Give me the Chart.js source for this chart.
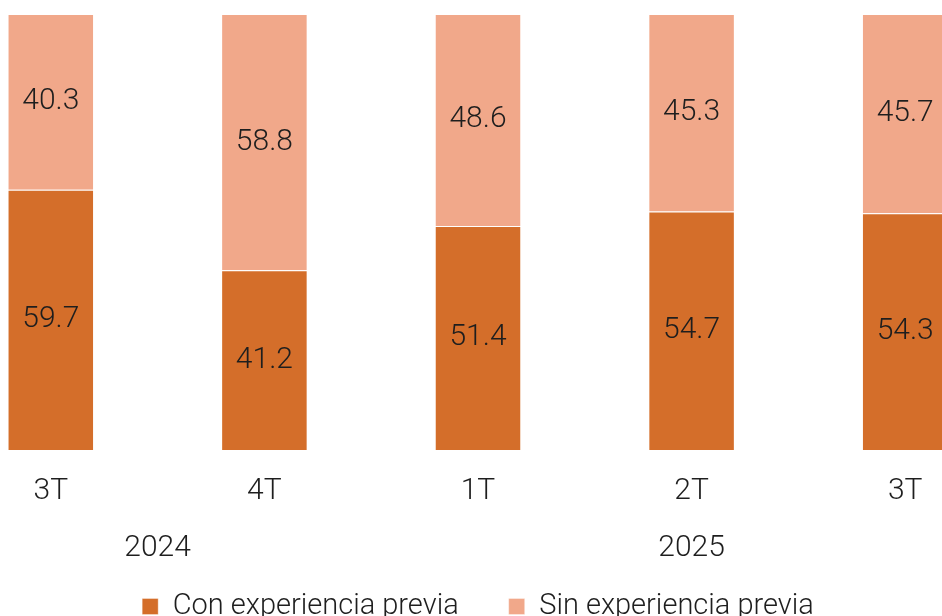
<!DOCTYPE html>
<html>
<head>
<meta charset="utf-8">
<script src="https://cdn.jsdelivr.net/npm/chart.js@4/dist/chart.umd.min.js"></script>
<style>
    html, body { margin: 0; padding: 0; background: #fff; overflow: hidden; width: 942px; height: 616px; }
    #wrap { position: absolute; left: -56px; top: 0; width: 1068px; height: 631px; }
</style>
</head>
<body>
<div id="wrap"><canvas id="myBarChart"></canvas></div>
<script>
var quarters = ['3T', '4T', '1T', '2T', '3T'];
var conExperiencia = [59.7, 41.2, 51.4, 54.7, 54.3];
var sinExperiencia = [40.3, 58.8, 48.6, 45.3, 45.7];
var years = ['2024', '2025'];
var yearFirst = [0, 2];
var yearLast = [1, 4];

var FONT = 'Roboto, "DejaVu Sans", sans-serif';
var TEXT = '#1e1e1e';

// value labels in the middle of each segment
var valueLabels = {
    id: 'valueLabels',
    afterDatasetsDraw: function (chart) {
        var ctx = chart.ctx;
        ctx.save();
        ctx.font = '300 30px ' + FONT;
        ctx.fillStyle = TEXT;
        ctx.textAlign = 'center';
        ctx.textBaseline = 'middle';
        chart.data.datasets.forEach(function (ds, i) {
            chart.getDatasetMeta(i).data.forEach(function (bar, j) {
                var mid = (bar.y + bar.base) / 2;
                ctx.fillText(ds.data[j].toFixed(1), bar.x, mid);
            });
        });
        ctx.restore();
    }
};

// second level of the x axis: the years
var yearLabels = {
    id: 'yearLabels',
    afterDraw: function (chart) {
        var ctx = chart.ctx;
        var x = chart.scales.x;
        ctx.save();
        ctx.font = '300 30px ' + FONT;
        ctx.fillStyle = TEXT;
        ctx.textAlign = 'center';
        ctx.textBaseline = 'middle';
        years.forEach(function (y, i) {
            var cx = (x.getPixelForValue(yearFirst[i]) + x.getPixelForValue(yearLast[i])) / 2;
            ctx.fillText(y, cx, chart.chartArea.bottom + 98);
        });
        ctx.restore();
    }
};

var chart = document.getElementById('myBarChart');
if (chart) {
    var ctx = chart.getContext('2d');
    var myBarChart = new Chart(ctx, {
        type: 'bar',
        data: {
            labels: quarters,
            datasets: [{
                label: 'Con experiencia previa',
                data: conExperiencia,
                backgroundColor: '#D46E2A',
                borderColor: 'rgba(255, 255, 255, 0.35)',
                borderWidth: 1,
                barPercentage: 0.405,
                categoryPercentage: 1.0
            }, {
                label: 'Sin experiencia previa',
                data: sinExperiencia,
                backgroundColor: '#F1A88A',
                borderColor: 'rgba(255, 255, 255, 0.35)',
                borderWidth: 1,
                barPercentage: 0.405,
                categoryPercentage: 1.0
            }]
        },
        options: {
            animation: false,
            responsive: true,
            maintainAspectRatio: false,
            layout: { padding: { top: 14, left: 0, right: 0, bottom: 0 } },
            plugins: {
                tooltip: { enabled: false },
                legend: {
                    position: 'bottom',
                    labels: {
                        boxWidth: 16,
                        boxHeight: 16,
                        padding: 50,
                        color: TEXT,
                        font: { family: FONT, size: 29, weight: '300' }
                    }
                }
            },
            scales: {
                x: {
                    stacked: true,
                    grid: { display: false, drawTicks: false },
                    border: { display: false },
                    ticks: {
                        color: TEXT,
                        padding: 23,
                        font: { family: FONT, size: 30, weight: '300' }
                    },
                    afterFit: function (scale) { scale.height += 10; }
                },
                y: {
                    stacked: true,
                    display: false,
                    min: 0,
                    max: 100
                }
            }
        },
        plugins: [valueLabels, yearLabels]
    });
}
</script>
</body>
</html>
